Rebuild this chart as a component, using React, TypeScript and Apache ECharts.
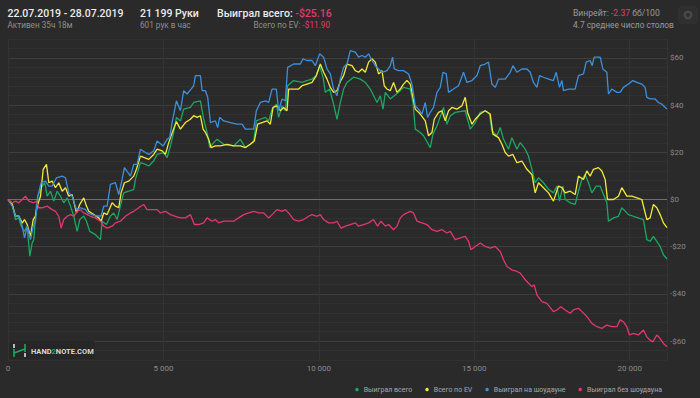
import React, { useEffect, useRef } from 'react';
import * as echarts from 'echarts';

// [hands, dollars]
const wonTotal: [number, number][] = [
  [0, 0], [135, -1.4], [241, -8.5], [347, -7.8], [424, -11.3], [530, -13.5], [617, -11.3], [701, -24], [778, -18.4], [829, -17],
  [894, -5], [958, 1.4], [1100, 5.7], [1183, 7.1], [1260, 1.4], [1366, 3.5], [1472, -0.7], [1582, 3.5], [1688, 1.4], [1794, -1.4],
  [1903, 0.7], [2009, -2.8], [2115, -7], [2225, -13.5], [2308, -8.5], [2437, -7], [2524, -9.2], [2630, -13.5], [2813, -14.9], [2974, -17],
  [3029, -9.2], [3167, -10.6], [3295, -7], [3401, -5.7], [3511, -8.5], [3639, -1.4], [3723, 2.8], [3884, 3.5], [4045, 4.3], [4099, 8.5],
  [4260, 15.6], [4421, 14.9], [4527, 14.2], [4687, 16.3], [4797, 19.1], [5009, 19.9], [5118, 17.7], [5224, 22.7], [5330, 28.4], [5418, 34.8],
  [5546, 33.3], [5652, 38.3], [5867, 39], [5973, 41.1], [6189, 41.8], [6295, 34], [6404, 28.4], [6488, 22], [6616, 24.1], [6726, 25.5],
  [6938, 23.4], [7259, 22.7], [7475, 25.5], [7636, 22], [7796, 23.4], [7902, 24.8], [7989, 33.3], [8118, 34], [8279, 34.8], [8385, 33.3],
  [8494, 38.3], [8632, 40.4], [8706, 34.8], [8816, 39.7], [8922, 37.6], [8996, 48.2], [9188, 50.4], [9459, 49.6], [9619, 50.4], [9780, 51],
  [9918, 52.5], [10024, 56.7], [10134, 51.8], [10208, 45.4], [10346, 46.8], [10474, 40.4], [10584, 34], [10690, 41.1], [10796, 46.8], [10905, 49.6],
  [11117, 51.8], [11333, 51], [11494, 49.6], [11654, 46.8], [11870, 41.1], [11976, 43.9], [12063, 38.3], [12137, 45.4], [12297, 42.6], [12564, 45.4],
  [12725, 47.5], [12940, 46.8], [13027, 41.1], [13101, 29.8], [13262, 28.4], [13368, 27], [13583, 22], [13670, 27.7], [13799, 31.2], [14011, 39],
  [14120, 31.9], [14226, 35.5], [14387, 36.9], [14709, 37.6], [14869, 29.8], [15030, 32.6], [15191, 36.9], [15352, 37.6], [15490, 36.2], [15567, 29.1],
  [15728, 27], [15834, 30.5], [15940, 25.5], [16101, 21.3], [16210, 26.2], [16371, 21.3], [16477, 24.1], [16638, 21.3], [16744, 18.4], [16853, 12.8],
  [16959, 7.1], [17065, 9.2], [17226, 7.1], [17387, 4.3], [17547, 2.8], [17657, 5.7], [17740, -0.7], [17850, 5.7], [17924, 0], [18084, -1.4],
  [18245, -2.1], [18351, 3.5], [18461, 8.5], [18566, 10.6], [18673, 7.1], [18782, 2.8], [18920, 5.7], [19049, 5.7], [19155, 2.1], [19264, -1.4],
  [19316, -9.2], [19476, -7.8], [19637, -7.1], [19746, -3.5], [19959, -6.4], [20119, -7.1], [20441, -8.5], [20550, -17], [20656, -17.7], [20762, -15.6],
  [20978, -19.9], [21084, -23.4], [21199, -25.2],
];

const totalEV: [number, number][] = [
  [0, 0], [135, -2.1], [241, -7], [347, -7], [457, -10], [530, -8.5], [617, -10.6], [723, -15.6], [810, -8.5], [884, -7],
  [939, -2.8], [1045, 1.4], [1132, 12.8], [1238, 14.9], [1312, 7.1], [1421, 7.8], [1527, 5], [1633, 7.1], [1743, 3.5], [1849, 5],
  [1955, 1.4], [2064, 2.1], [2202, -5.7], [2308, -2.1], [2437, 0.7], [2524, -2.8], [2598, -5], [2758, -6.4], [2919, -7.8], [2996, -9.2],
  [3080, -5.7], [3189, -6.4], [3350, -1.4], [3456, -2.8], [3562, -3.5], [3639, 2.8], [3745, 7.1], [3884, 7.8], [4045, 9.9], [4131, 12.8],
  [4260, 18.4], [4388, 17.7], [4527, 17], [4687, 19.1], [4797, 21.3], [4958, 20.6], [5064, 19.1], [5170, 24.1], [5330, 30], [5418, 33],
  [5546, 29.8], [5707, 32.6], [5867, 34], [5973, 35.5], [6083, 34.8], [6189, 35.5], [6276, 29.8], [6350, 28.4], [6456, 25.5], [6533, 22],
  [6671, 22.7], [6832, 22.7], [7047, 23.4], [7259, 22.7], [7475, 22.7], [7636, 22], [7796, 23.4], [7925, 24.8], [8031, 31.9], [8172, 32.6],
  [8333, 33.3], [8439, 31.9], [8526, 39], [8655, 39.7], [8761, 37.6], [8867, 39], [8976, 37.6], [9028, 46.8], [9188, 46.8], [9349, 46.8],
  [9459, 48.2], [9619, 48.9], [9780, 49.6], [9918, 52.5], [10047, 57.4], [10153, 53.9], [10262, 51], [10368, 47.5], [10474, 45.4], [10584, 46.1],
  [10690, 50], [10796, 52.5], [10905, 57.4], [11066, 56.7], [11172, 54.6], [11278, 53.9], [11388, 55.3], [11494, 53.9], [11600, 58.2], [11709, 59.6],
  [11815, 58.2], [11921, 53.2], [12030, 54.6], [12104, 48.2], [12191, 46.8], [12297, 46.1], [12403, 49.6], [12513, 45.4], [12619, 46.8], [12725, 48.9],
  [12834, 50.4], [12940, 48.9], [13027, 43.3], [13101, 38.3], [13262, 36.2], [13423, 33.3], [13529, 27], [13638, 28.4], [13712, 34], [13850, 36.9],
  [13959, 37.6], [14066, 33.3], [14172, 37.6], [14281, 39], [14442, 38.3], [14603, 39.7], [14709, 43.3], [14783, 36.9], [14924, 31.9], [15030, 34],
  [15191, 36.2], [15352, 37.6], [15512, 36.2], [15599, 27.7], [15779, 26.2], [15889, 23.4], [15994, 19.9], [16101, 18.4], [16242, 19.1], [16371, 15.6],
  [16531, 16.3], [16692, 12.8], [16853, 10.6], [16959, 2.8], [17065, 7.1], [17226, 5], [17387, 2.8], [17547, -0.7], [17708, 5.7], [17818, 5],
  [17924, 2.8], [18084, 3.5], [18245, 2.1], [18351, 9.9], [18512, 8.5], [18621, 12.1], [18727, 9.9], [18833, 12.8], [18994, 13.5], [19104, 12.1],
  [19210, 8.5], [19284, 0], [19476, 0], [19637, 1.4], [19746, 5], [19907, 1.4], [20068, 1.4], [20229, 0.7], [20389, 0], [20550, -8.5],
  [20656, -7.8], [20762, -2.1], [20872, -3.5], [20978, -6.4], [21084, -9.9], [21199, -11.9],
];

const wonShowdown: [number, number][] = [
  [0, 0], [135, -2.8], [241, -7], [347, -7], [457, -11.3], [530, -16.3], [617, -11.3], [723, -17], [810, -11.3], [884, -9.2],
  [958, 1.4], [1067, 7.1], [1206, 7.8], [1312, 5.7], [1421, 5.7], [1559, 9.2], [1743, 9.9], [1849, 9.2], [1955, 2.8], [2064, 1.4],
  [2202, -4.3], [2331, -3.5], [2492, -4.3], [2566, -5.7], [2707, -6.4], [2868, -7], [2996, -7], [3080, -2.8], [3189, -2.8], [3295, 6.4],
  [3456, 7.1], [3562, 2.1], [3672, 8.5], [3745, 13.5], [3938, 9.9], [4045, 14.9], [4154, 14.9], [4260, 21.3], [4421, 19.9], [4527, 19.1],
  [4687, 20.6], [4797, 24.8], [4990, 22.7], [5118, 25.5], [5202, 26.2], [5279, 32.6], [5418, 41.8], [5546, 37.6], [5652, 46.1], [5761, 44.7],
  [5890, 46.8], [5973, 48.2], [6028, 52.5], [6189, 52.5], [6244, 46.1], [6350, 46.1], [6424, 43.3], [6510, 32.6], [6671, 33.3], [6745, 30.5],
  [6809, 34.8], [6938, 33.3], [7153, 32.6], [7369, 31.9], [7529, 31.9], [7636, 29.8], [7902, 29.8], [7989, 37.6], [8118, 41.1], [8279, 41.8],
  [8385, 41.1], [8494, 46.8], [8632, 46.8], [8706, 37.6], [8816, 42.6], [8922, 41.8], [8996, 56], [9188, 57.4], [9404, 57.4], [9491, 59.6],
  [9619, 58.9], [9780, 58.9], [9886, 56.7], [10024, 61.7], [10153, 60.3], [10262, 55.3], [10368, 53.2], [10474, 46.8], [10584, 44], [10690, 51],
  [10796, 56], [10905, 57.4], [11011, 63.1], [11172, 62.4], [11278, 60.3], [11388, 61], [11494, 60.3], [11600, 61.7], [11709, 58.9], [11815, 56.7],
  [11921, 55.3], [12030, 53.9], [12191, 54.6], [12297, 56.7], [12371, 60.3], [12426, 55.3], [12564, 54.6], [12725, 54.6], [12886, 53.2], [12995, 48.9],
  [13101, 39.7], [13207, 38.3], [13317, 36.2], [13423, 41.1], [13497, 34.8], [13583, 36.9], [13689, 39], [13799, 45.4], [13905, 47.5], [13992, 53.9],
  [14098, 53.2], [14172, 45.4], [14332, 46.8], [14493, 48.2], [14654, 53.9], [14763, 49.6], [14924, 50.4], [15085, 52.5], [15191, 56.7], [15352, 57.4],
  [15458, 58.2], [15567, 48.9], [15673, 47.5], [15779, 51], [15994, 51], [16156, 53.9], [16242, 56.7], [16371, 53.9], [16531, 55.3], [16692, 55.3],
  [16798, 53.9], [16904, 49.6], [17014, 47.5], [17097, 52.5], [17226, 51.8], [17387, 51], [17547, 50.4], [17634, 53.9], [17740, 47.5], [17818, 50.4],
  [17869, 46.1], [18030, 46.8], [18245, 46.8], [18351, 52.5], [18512, 53.2], [18599, 58.2], [18727, 58.9], [18792, 56.7], [18856, 60.3], [19049, 60.3],
  [19136, 55.3], [19264, 53.9], [19316, 44.7], [19425, 46.8], [19586, 45.4], [19692, 45.4], [19798, 47.5], [19959, 48.9], [20100, 50.4], [20229, 49.6],
  [20389, 48.9], [20495, 47.5], [20550, 43.3], [20656, 42.6], [20816, 42.6], [20923, 41.1], [21033, 40.4], [21139, 39], [21199, 38.3],
];

const wonNonShowdown: [number, number][] = [
  [0, 0], [135, -1.4], [241, -0.7], [347, -1.4], [457, 0], [563, 1.4], [669, -0.7], [829, -1.4], [916, -0.7], [990, -3.5],
  [1100, -3.5], [1260, -2.8], [1421, -4.3], [1527, -5], [1633, -7.1], [1710, -12.1], [1794, -8.5], [1903, -7.1], [2009, -6.4], [2115, -7.1],
  [2225, -5], [2331, -4.3], [2437, -5.7], [2546, -6.4], [2652, -7.1], [2813, -7.8], [2974, -9.2], [3080, -11.3], [3189, -12.1], [3350, -11.3],
  [3456, -9.9], [3617, -9.2], [3778, -7.1], [3938, -5.7], [4045, -5], [4205, -3.5], [4366, -2.1], [4475, -4.3], [4636, -4.3], [4797, -4.3],
  [4903, -5.7], [5064, -5], [5224, -6.4], [5385, -7.1], [5546, -7.8], [5707, -7.8], [5867, -6.4], [5996, -10.6], [6134, -10.6], [6295, -9.9],
  [6404, -7.8], [6565, -9.2], [6671, -8.5], [6777, -9.9], [6938, -9.2], [7099, -9.2], [7259, -9.2], [7420, -7.8], [7581, -6.4], [7742, -5.7],
  [7902, -5], [8063, -5.7], [8224, -5.7], [8385, -7.8], [8494, -6.4], [8655, -4.3], [8816, -5], [8922, -4.3], [9028, -5.7], [9188, -8.5],
  [9349, -9.2], [9510, -8.5], [9671, -7.1], [9780, -6.4], [9941, -7.1], [10047, -6.4], [10153, -8.5], [10314, -9.9], [10474, -9.9], [10584, -9.2],
  [10712, -12.1], [10851, -11.3], [11011, -10.6], [11172, -9.9], [11278, -11.3], [11439, -10.6], [11600, -9.9], [11760, -8.5], [11889, -11.3], [11998, -9.2],
  [12137, -11.3], [12243, -10.6], [12403, -12.8], [12513, -11.3], [12619, -7.8], [12725, -6.4], [12834, -5.7], [12940, -5], [13046, -5.7], [13156, -9.2],
  [13317, -9.9], [13477, -10.6], [13638, -12.8], [13799, -13.5], [13959, -12.8], [14120, -14.2], [14226, -13.5], [14387, -17], [14548, -16.3], [14709, -15.6],
  [14815, -17.7], [14892, -21.3], [15030, -19.9], [15191, -18.4], [15352, -19.9], [15512, -20.6], [15673, -19.9], [15834, -22], [15940, -25.5], [16049, -28.4],
  [16210, -29.8], [16371, -30.5], [16477, -31.2], [16638, -34], [16744, -35.5], [16853, -36.9], [16927, -36.2], [17014, -40.4], [17175, -43.3], [17335, -44],
  [17419, -45.4], [17547, -47.5], [17657, -46.8], [17785, -45.4], [17924, -46.8], [18084, -48.2], [18190, -46.8], [18351, -46.1], [18461, -47.5], [18621, -49.6],
  [18782, -52.5], [18943, -53.9], [19104, -54.6], [19264, -53.2], [19425, -53.9], [19586, -53.9], [19692, -51], [19798, -51.8], [19907, -53.9], [19991, -57.4],
  [20119, -56.7], [20280, -57.4], [20441, -55.3], [20550, -58.2], [20656, -59.6], [20743, -60.3], [20872, -57.4], [20978, -58.9], [21084, -61], [21199, -62.4],
];

const seriesNames = ['Выиграл всего', 'Всего по EV', 'Выиграл на шоудауне', 'Выиграл без шоудауна'];
const seriesColors = ['#1ba862', '#f2ea3a', '#3d8fdc', '#e0386e'];
const totalHands = 21199;

const BG = '#2a2a2a';
const FONT = 'Roboto, "Noto Sans", sans-serif';

function fmtHands(v: number): string {
  return String(v).replace(/\B(?=(\d{3})+(?!\d))/g, ' ');
}

export default function App() {
  const ref = useRef<HTMLDivElement>(null);
  useEffect(() => {
    if (!ref.current) return;
    const chart = echarts.init(ref.current, null, { renderer: 'svg' });
    const datasets = [wonTotal, totalEV, wonShowdown, wonNonShowdown];
    const minorColor = '#313131';
    const majorColor = '#3e3e3e';
    chart.setOption({
      animation: false,
      backgroundColor: BG,
      textStyle: { fontFamily: FONT },
      grid: { left: 8, right: 33, top: 39, bottom: 38 },
      xAxis: {
        type: 'value',
        min: 0,
        max: totalHands,
        interval: 5000,
        axisLine: { show: false },
        axisTick: { show: false },
        axisLabel: {
          color: '#8a8a8a',
          fontSize: 8,
          fontFamily: FONT,
          margin: 4,
          showMaxLabel: false,
          formatter: (v: number) => (v % 5000 === 0 ? fmtHands(v) : ''),
        },
        splitLine: { show: true, lineStyle: { color: '#333333', width: 1 } },
      },
      yAxis: {
        type: 'value',
        position: 'right',
        min: -68,
        max: 68,
        interval: 4,
        axisLine: { show: false },
        axisTick: { show: false },
        axisLabel: {
          color: '#8a8a8a',
          fontSize: 8,
          fontFamily: FONT,
          margin: 3,
          formatter: (v: number) => {
            if (v % 20 !== 0) return '';
            if (v === 0) return '$0';
            return v < 0 ? '-$' + -v : '$' + v;
          },
        },
        splitLine: {
          show: true,
          lineStyle: { color: [minorColor, minorColor, majorColor, minorColor, minorColor], width: 1 },
        },
      },
      legend: {
        data: seriesNames,
        right: 33,
        top: 381,
        icon: 'circle',
        itemWidth: 3.5,
        itemHeight: 3.5,
        itemGap: 13,
        textStyle: { color: '#a8a8a8', fontSize: 7, fontFamily: FONT, padding: [0, 0, 0, 0] },
      },
      series: datasets.map((d, i) => ({
        name: seriesNames[i],
        type: 'line',
        data: d,
        showSymbol: false,
        symbol: 'circle',
        color: seriesColors[i],
        lineStyle: { width: 1.3, color: seriesColors[i] },
        z: 3 + i,
        markLine:
          i === 0
            ? {
                silent: true,
                symbol: 'none',
                label: { show: false },
                lineStyle: { color: '#6f6f6f', width: 1.2, type: 'solid' },
                data: [{ yAxis: 0 }],
                z: 1,
              }
            : undefined,
      })),
      graphic: [
        {
          type: 'text', x: 7.5, y: 13,
          style: { text: '22.07.2019 - 28.07.2019', fill: '#ececec', fontSize: 10.5, fontWeight: 500, fontFamily: FONT, verticalAlign: 'middle' },
        },
        {
          type: 'text', x: 7.5, y: 25,
          style: { text: 'Активен 35ч 18м', fill: '#8f8f8f', fontSize: 8.2, fontFamily: FONT, verticalAlign: 'middle' },
        },
        {
          type: 'text', x: 140, y: 13,
          style: { text: '21 199 Руки', fill: '#ececec', fontSize: 10.5, fontWeight: 500, fontFamily: FONT, verticalAlign: 'middle' },
        },
        {
          type: 'text', x: 140, y: 25,
          style: { text: '601 рук в час', fill: '#8f8f8f', fontSize: 8.2, fontFamily: FONT, verticalAlign: 'middle' },
        },
        {
          type: 'text', x: 217, y: 13,
          style: {
            text: '{a|Выиграл всего: }{b|-$25.16}',
            verticalAlign: 'middle',
            rich: {
              a: { fill: '#ececec', fontSize: 10.5, fontWeight: 500, fontFamily: FONT },
              b: { fill: '#e23a70', fontSize: 10.5, fontWeight: 500, fontFamily: FONT },
            },
          },
        },
        {
          type: 'text', x: 330, y: 25,
          style: {
            text: '{a|Всего по EV: }{b|-$11.90}',
            align: 'right', verticalAlign: 'middle',
            rich: {
              a: { fill: '#8f8f8f', fontSize: 8.2, fontFamily: FONT },
              b: { fill: '#e23a70', fontSize: 8.2, fontFamily: FONT },
            },
          },
        },
        {
          type: 'text', x: 573, y: 13,
          style: {
            text: '{a|Винрейт: }{b|-2.37}{a| бб/100}',
            verticalAlign: 'middle',
            rich: {
              a: { fill: '#9a9a9a', fontSize: 8.6, fontFamily: FONT },
              b: { fill: '#e23a70', fontSize: 8.6, fontFamily: FONT },
            },
          },
        },
        {
          type: 'text', x: 573, y: 25,
          style: { text: '4.7 среднее число столов', fill: '#9a9a9a', fontSize: 8.4, fontFamily: FONT, verticalAlign: 'middle' },
        },
        {
          type: 'rect', shape: { x: 679, y: 7, width: 18, height: 16, r: 2 },
          style: { fill: '#2f2f2f', stroke: '#343434', lineWidth: 1 },
        },
        {
          type: 'ring', shape: { cx: 688, cy: 15, r: 4.5, r0: 2 },
          style: { fill: '#474747' },
        },
        {
          type: 'rect', shape: { x: 9, y: 341, width: 86, height: 18, r: 2 },
          style: { fill: '#262626' },
          z: 10,
        },
        { type: 'line', shape: { x1: 14, y1: 344, x2: 14, y2: 348 }, style: { stroke: '#e0e0e0', lineWidth: 1.6 }, z: 11 },
        { type: 'line', shape: { x1: 14, y1: 349, x2: 14, y2: 357 }, style: { stroke: '#1ba862', lineWidth: 1.6 }, z: 11 },
        { type: 'line', shape: { x1: 14, y1: 353, x2: 25, y2: 349 }, style: { stroke: '#1ba862', lineWidth: 1.6 }, z: 11 },
        { type: 'line', shape: { x1: 25, y1: 344, x2: 25, y2: 352 }, style: { stroke: '#1ba862', lineWidth: 1.6 }, z: 11 },
        { type: 'line', shape: { x1: 25, y1: 353, x2: 25, y2: 357 }, style: { stroke: '#e0e0e0', lineWidth: 1.6 }, z: 11 },
        {
          type: 'text', x: 31, y: 351, z: 11,
          style: {
            text: '{a|HAND}{b|2}{a|NOTE.COM}',
            verticalAlign: 'middle',
            rich: {
              a: { fill: '#d8d8d8', fontSize: 7.5, fontWeight: 'bold', fontFamily: FONT },
              b: { fill: '#1ba862', fontSize: 7.5, fontWeight: 'bold', fontFamily: FONT },
            },
          },
        },
      ],
    });
    return () => chart.dispose();
  }, []);
  return (
    <div style={{ position: 'fixed', left: 0, top: 0, width: 700, height: 398, background: BG }}>
      <div ref={ref} style={{ width: 700, height: 398 }} />
    </div>
  );
}
